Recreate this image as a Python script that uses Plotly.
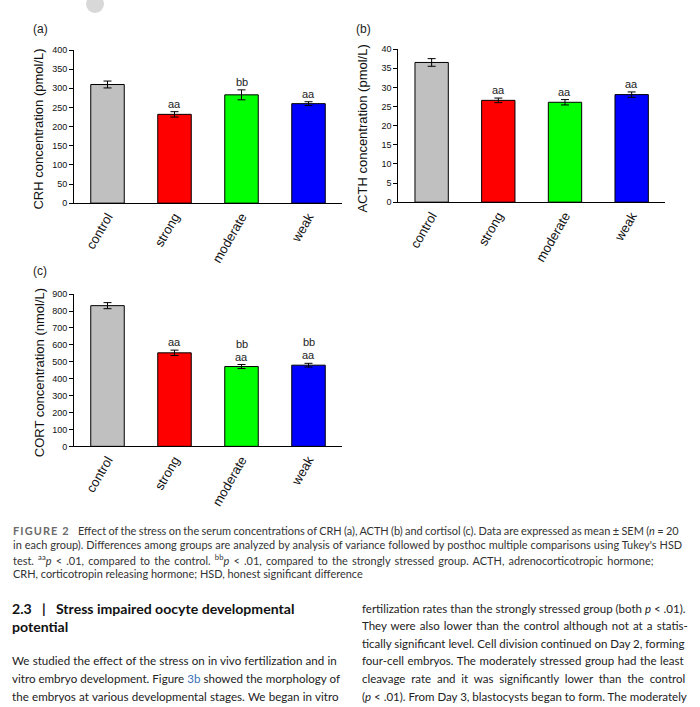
import re
import plotly.graph_objects as go

W, H = 700, 707

categories = ["control", "strong", "moderate", "weak"]
bar_colors = ["#C0C0C0", "#FF0000", "#00FF00", "#0000FF"]

crh_mean = [310, 232, 283, 260]
crh_sem = [9, 7, 13, 5]
crh_sig = [[], ["aa"], ["bb"], ["aa"]]

acth_mean = [36.5, 26.6, 26.1, 28.1]
acth_sem = [1.0, 0.6, 0.7, 0.7]
acth_sig = [[], ["aa"], ["aa"], ["aa"]]

cort_mean = [832, 553, 472, 480]
cort_sem = [18, 16, 12, 11]
cort_sig = [[], ["aa"], ["aa", "bb"], ["aa", "bb"]]

crh_ticks = [0, 50, 100, 150, 200, 250, 300, 350, 400]
acth_ticks = [0, 5, 10, 15, 20, 25, 30, 35, 40]
cort_ticks = [0, 100, 200, 300, 400, 500, 600, 700, 800, 900]

caption_label = "<b><span style='color:#6b6b6b;letter-spacing:1.1px'>FIGURE 2</span></b>&nbsp;&nbsp;&nbsp;"
caption_lines = [
    "Effect of the stress on the serum concentrations of CRH (a), ACTH (b) and cortisol (c). Data are expressed as mean ± SEM (<i>n</i> = 20",
    "in each group). Differences among groups are analyzed by analysis of variance followed by posthoc multiple comparisons using Tukey's HSD",
    "test. <sup>aa</sup><i>p</i> &lt; .01, compared to the control. <sup>bb</sup><i>p</i> &lt; .01, compared to the strongly stressed group. ACTH, adrenocorticotropic hormone;",
    "CRH, corticotropin releasing hormone; HSD, honest significant difference",
]
caption_spacing = [-0.45, 0.2, 1.4, 0.0]
heading_lines = ["2.3&nbsp;&nbsp;&nbsp;|&nbsp;&nbsp;&nbsp;Stress impaired oocyte developmental", "potential"]
left_lines = [
    "We studied the effect of the stress on in vivo fertilization and in",
    "vitro embryo development. Figure <span style='color:#3b6fb6'>3b</span> showed the morphology of",
    "the embryos at various developmental stages. We began in vitro",
]
left_spacing = [0.2, 0.0, 0.3]
right_lines = [
    "fertilization rates than the strongly stressed group (both <i>p</i> &lt; .01).",
    "They were also lower than the control although not at a statis-",
    "tically significant level. Cell division continued on Day 2, forming",
    "four-cell embryos. The moderately stressed group had the least",
    "cleavage rate and it was significantly lower than the control",
    "(<i>p</i> &lt; .01). From Day 3, blastocysts began to form. The moderately",
]
right_spacing = [0.0, 1.2, 0.0, 0.6, 2.9, 0.0]


def X(px):
    return px / W


def Y(py):
    return 1 - py / H


def spaced(text, ws):
    if ws == 0:
        return text
    out = []
    for part in re.split(r"(<[^>]+>)", text):
        if part == "" or part.startswith("<"):
            out.append(part)
        else:
            out.append("<span style='word-spacing:%.2fpx'>%s</span>" % (ws, part))
    return "".join(out)


CF = "Liberation Sans, Arial, sans-serif"
TF = "Lato, Open Sans, sans-serif"

fig = go.Figure()

panels = [
    ("x", "y", crh_mean, crh_sem, crh_sig, crh_ticks, (74, 342), (45.7, 201),
     "CRH concentration (pmol/L)", 39, "(a)", (40, 24)),
    ("x2", "y2", acth_mean, acth_sem, acth_sig, acth_ticks, (398.3, 665), (44.7, 200),
     "ACTH concentration (pmol/L)", 363, "(b)", (363, 24)),
    ("x3", "y3", cort_mean, cort_sem, cort_sig, cort_ticks, (74, 342), (293.3, 447.7),
     "CORT concentration (nmol/L)", 39, "(c)", (40, 270)),
]

annotations = []
layout_axes = {}
for i, (xa, ya, mean, sem, sig, ticks, xd, yd, title, tx, lab, labpos) in enumerate(panels):
    fig.add_trace(go.Bar(
        x=categories, y=mean, xaxis=xa, yaxis=ya, width=0.5,
        marker=dict(color=bar_colors, line=dict(color="black", width=1)),
        error_y=dict(type="data", array=sem, color="black", thickness=1, width=4),
        showlegend=False,
    ))
    suffix = "" if i == 0 else str(i + 1)
    layout_axes["xaxis" + suffix] = dict(
        domain=[X(xd[0]), X(xd[1])], anchor=ya, range=[-0.5, 3.5],
        showline=True, linecolor="black", linewidth=1, ticks="",
        tickangle=-60, tickfont=dict(family=CF, size=13, color="#111"),
        showgrid=False, zeroline=False, fixedrange=True,
    )
    layout_axes["yaxis" + suffix] = dict(
        domain=[Y(yd[1]), Y(yd[0])], anchor=xa, range=[0, ticks[-1]],
        tickvals=ticks, showline=True, linecolor="black", linewidth=1,
        ticks="outside", ticklen=4, tickwidth=1, tickcolor="black",
        tickfont=dict(family=CF, size=9, color="#111"),
        showgrid=False, zeroline=False, fixedrange=True,
    )
    ycen = (yd[0] + yd[1]) / 2 + 3
    annotations.append(dict(
        text=title, xref="paper", yref="paper", x=X(tx), y=Y(ycen),
        xanchor="center", yanchor="middle", textangle=-90, showarrow=False,
        font=dict(family=CF, size=13, color="#111"),
    ))
    annotations.append(dict(
        text=lab, xref="paper", yref="paper", x=X(labpos[0]), y=Y(labpos[1]),
        xanchor="center", yanchor="middle", showarrow=False,
        font=dict(family=CF, size=12, color="#222"),
    ))
    for c, m, s, labels in zip(categories, mean, sem, sig):
        for k, t in enumerate(labels):
            annotations.append(dict(
                text=t, xref=xa, yref=ya, x=c, y=m + s, yshift=8 + 13 * k,
                xanchor="center", yanchor="middle", showarrow=False,
                font=dict(family=CF, size=11, color="#222"),
            ))

for k, line in enumerate(caption_lines):
    txt = spaced(line, caption_spacing[k])
    if k == 0:
        txt = caption_label + txt
    annotations.append(dict(
        text=txt, xref="paper", yref="paper",
        x=X(11), y=Y(533 + 14.7 * k),
        xanchor="left", yanchor="middle", showarrow=False, align="left",
        font=dict(family=TF, size=10.95, color="#333"),
    ))
for k, line in enumerate(heading_lines):
    annotations.append(dict(
        text="<b>" + line + "</b>", xref="paper", yref="paper", x=X(10), y=Y(612 + 18 * k),
        xanchor="left", yanchor="middle", showarrow=False, align="left",
        font=dict(family=TF, size=14.1, color="#111"),
    ))
for k, line in enumerate(left_lines):
    annotations.append(dict(
        text=spaced(line, left_spacing[k]), xref="paper", yref="paper",
        x=X(10), y=Y(665 + 18 * k),
        xanchor="left", yanchor="middle", showarrow=False, align="left",
        font=dict(family=TF, size=11.6, color="#222"),
    ))
for k, line in enumerate(right_lines):
    annotations.append(dict(
        text=spaced(line, right_spacing[k]), xref="paper", yref="paper",
        x=X(360), y=Y(612 + 17.8 * k),
        xanchor="left", yanchor="middle", showarrow=False, align="left",
        font=dict(family=TF, size=11.5, color="#222"),
    ))

shapes = [dict(type="circle", xref="paper", yref="paper",
               x0=X(86), x1=X(104), y0=Y(8), y1=Y(-10),
               fillcolor="#d8d8d8", line=dict(width=0), layer="below")]

fig.update_layout(
    width=W, height=H, margin=dict(l=0, r=0, t=0, b=0),
    paper_bgcolor="white", plot_bgcolor="white",
    annotations=annotations, shapes=shapes, bargap=0.5,
    **layout_axes,
)

fig.write_html(
    "out.html",
    config={"displayModeBar": False},
    post_script="document.body.style.margin='0px';document.body.style.overflow='hidden';",
)
